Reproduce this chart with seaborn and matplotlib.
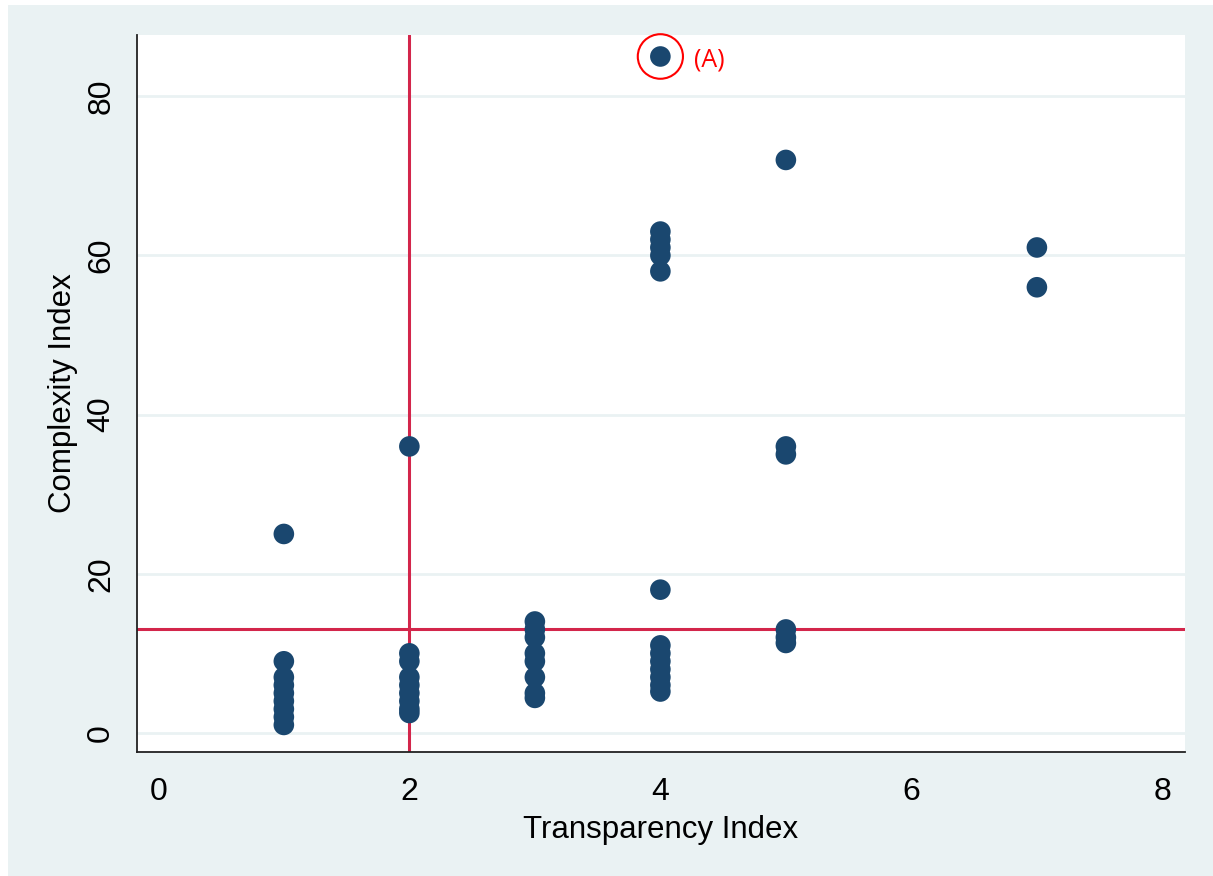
import matplotlib
matplotlib.use("Agg")
import matplotlib.pyplot as plt
from matplotlib.patches import Ellipse
import pandas as pd
import seaborn as sns

# values
transparency = [1, 1, 1, 1, 1, 1, 1, 1, 1,
                2, 2, 2, 2, 2, 2, 2, 2, 2,
                3, 3, 3, 3, 3, 3, 3, 3,
                4, 4, 4, 4, 4, 4, 4, 4, 4, 4, 4, 4, 4, 4,
                5, 5, 5, 5, 5, 5,
                7, 7]
complexity = [25, 9, 7, 6, 5, 4, 3, 2, 1,
              36, 10, 9, 7, 6, 5, 4, 3, 2.5,
              14, 13, 12, 10, 9, 7, 5, 4.4,
              85, 63, 62, 61, 60, 58, 18, 11, 10, 9, 8, 7, 6, 5.2,
              72, 36, 35, 13, 12, 11.3,
              61, 56]
x_ticks = [0, 2, 4, 6, 8]
y_ticks = [0, 20, 40, 60, 80]
cut_x = 2
cut_y = 13
outlier = (4, 85)

df = pd.DataFrame({"Transparency Index": transparency, "Complexity Index": complexity})

sns.set_style("white")
plt.rcParams["font.family"] = ["Liberation Sans", "DejaVu Sans"]

bg = "#EAF2F3"
fig = plt.figure(figsize=(12.13, 8.76), dpi=100, facecolor="white")
fig.patches.append(plt.Rectangle((8 / 1213, 0.0), 1, 1 - 5 / 876, transform=fig.transFigure,
                                 facecolor=bg, edgecolor="none", zorder=-10))
ax = fig.add_axes([137 / 1213, 1 - 752 / 876, (1185 - 137) / 1213, (752 - 35) / 876])
ax.set_facecolor("white")

for yv in y_ticks:
    ax.axhline(yv, color=bg, lw=2, zorder=0)

sns.scatterplot(data=df, x="Transparency Index", y="Complexity Index", ax=ax,
                color="#1A476F", s=220, edgecolor="none", zorder=3)

ax.axvline(cut_x, color="#D3264B", lw=2.2, zorder=2)
ax.axhline(cut_y, color="#D3264B", lw=2.2, zorder=2)

ax.set_xlim(-0.17, 8.18)
ax.set_ylim(-2.4, 87.7)
ax.set_xticks(x_ticks)
ax.set_yticks(y_ticks)
ax.tick_params(axis="both", length=10, width=1.5, color="#555555", labelsize=23,
               labelcolor="black", pad=5)
ax.tick_params(axis="x", pad=8)
for lbl in ax.get_yticklabels():
    lbl.set_rotation(90)
    lbl.set_va("center")

for side in ["top", "right"]:
    ax.spines[side].set_visible(False)
for side in ["left", "bottom"]:
    ax.spines[side].set_color("#222222")
    ax.spines[side].set_linewidth(1.3)

ax.set_xlabel("Transparency Index", fontsize=22.5, labelpad=6, color="black")
ax.set_ylabel("Complexity Index", fontsize=22.5, labelpad=6, color="black")

# red circle and label around the outlier
circ = Ellipse(outlier, width=0.36, height=5.6, fill=False, edgecolor="#FF0000", lw=1.5,
               zorder=4, clip_on=False)
ax.add_patch(circ)
ax.text(outlier[0] + 0.27, outlier[1] - 0.5, "(A)", color="#FF0000", fontsize=18,
        va="center", ha="left", family=["Open Sans", "DejaVu Sans"])

fig.savefig("out.png", dpi=100, facecolor="white")
